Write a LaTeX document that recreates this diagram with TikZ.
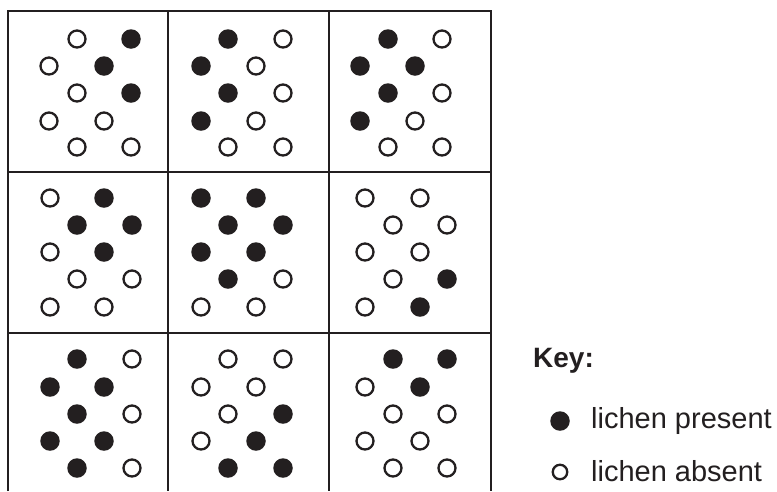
\documentclass[tikz,border=0pt]{standalone}
\usepackage{fontspec}
\setmainfont{Liberation Sans}
\definecolor{ink}{HTML}{231F20}
\begin{document}
\begin{tikzpicture}[x=1pt,y=-1pt,
  gridline/.style={draw=ink,line width=2pt,line join=miter},
  dotf/.style={circle,fill=ink,draw=none,minimum size=19.5pt,inner sep=0pt},
  doto/.style={circle,fill=white,draw=ink,line width=2.3pt,minimum size=17pt,inner sep=0pt},
  keydotf/.style={circle,fill=ink,draw=none,minimum size=19.5pt,inner sep=0pt},
  keydoto/.style={circle,fill=white,draw=ink,line width=2.3pt,minimum size=14.5pt,inner sep=0pt},
  keytext/.style={anchor=base west,inner sep=0pt,font=\fontsize{29}{34}\selectfont,text=ink},
  keyhead/.style={anchor=base west,inner sep=0pt,font=\fontsize{28}{33}\selectfont\bfseries,text=ink}]
\useasboundingbox[fill=white] (0,0) rectangle (777,491);
% grid
\draw[gridline] (7.5,491) -- (7.5,11) -- (491,11) -- (491,491);
\draw[gridline] (168,11) -- (168,491);
\draw[gridline] (329,11) -- (329,491);
\draw[gridline] (7.5,172) -- (491,172);
\draw[gridline] (7.5,333) -- (491,333);
% dots
\foreach \x/\y/\s [count=\i] in {
  77/39/doto,131/39/dotf, 49/66/doto,104/66/dotf, 77/93/doto,131/93/dotf, 49/121/doto,104/121/doto, 77/147/doto,131/147/doto,
  228/39/dotf,283/39/doto, 201/66/dotf,256/66/doto, 228/93/dotf,283/93/doto, 201/121/dotf,256/121/doto, 228/147/doto,283/147/doto,
  388/39/dotf,442/39/doto, 360/66/dotf,415/66/dotf, 388/93/dotf,442/93/doto, 360/121/dotf,415/121/doto, 388/147/doto,442/147/doto,
  50/198/doto,104/198/dotf, 77/225/dotf,132/225/dotf, 50/252/doto,104/252/dotf, 77/279/doto,132/279/doto, 50/307/doto,104/307/doto,
  201/198/dotf,256/198/dotf, 228/225/dotf,283/225/dotf, 201/252/dotf,256/252/dotf, 228/279/dotf,283/279/doto, 201/307/doto,256/307/doto,
  365/198/doto,420/198/doto, 393/225/doto,447/225/doto, 365/252/doto,420/252/doto, 393/279/doto,447/279/dotf, 365/307/doto,420/307/dotf,
  77/359/dotf,132/359/doto, 50/387/dotf,104/387/dotf, 77/414/dotf,132/414/doto, 50/441/dotf,104/441/dotf, 77/468/dotf,132/468/doto,
  228/359/doto,283/359/doto, 201/387/doto,256/387/doto, 228/414/doto,283/414/dotf, 201/441/doto,256/441/dotf, 228/468/dotf,283/468/dotf,
  393/359/dotf,447/359/dotf, 365/387/doto,420/387/dotf, 393/414/doto,447/414/doto, 365/441/doto,420/441/doto, 393/468/doto,447/468/doto}
  \node[\s] (dot\i) at (\x,\y) {};
% key
\node[keyhead] (keytitle) at (533,367) {Key:};
\node[keydotf] (kf) at (560,421) {};
\node[keytext] (kft) at (591,428) {lichen present};
\node[keydoto] (ko) at (560,472) {};
\node[keytext] (kot) at (591,481) {lichen absent};
\end{tikzpicture}
\end{document}
